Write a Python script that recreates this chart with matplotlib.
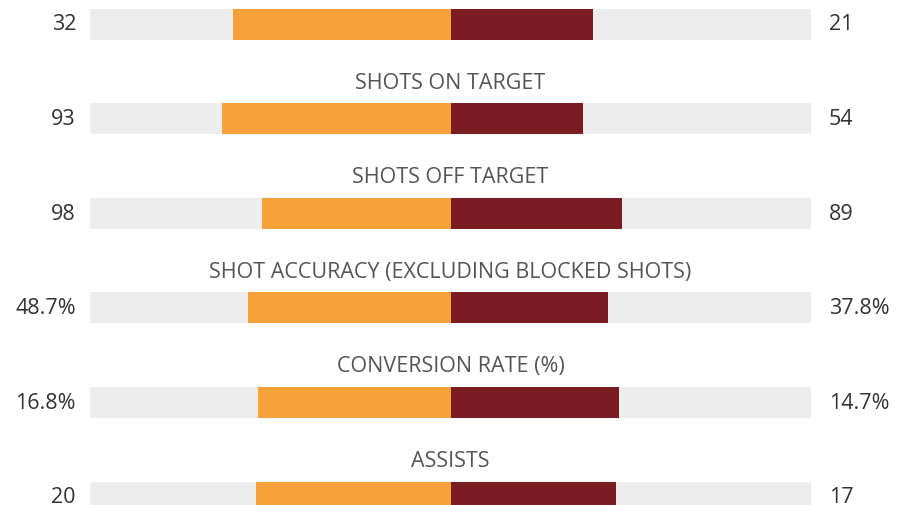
import matplotlib
matplotlib.use("Agg")
import matplotlib.pyplot as plt

# Team comparison rows (the top row's title sits above the visible area)
categories = ["GOALS", "SHOTS ON TARGET", "SHOTS OFF TARGET",
              "SHOT ACCURACY (EXCLUDING BLOCKED SHOTS)", "CONVERSION RATE (%)", "ASSISTS"]
home_values = [32, 93, 98, 48.7, 16.8, 20]
away_values = [21, 54, 89, 37.8, 14.7, 17]
home_labels = ["32", "93", "98", "48.7%", "16.8%", "20"]
away_labels = ["21", "54", "89", "37.8%", "14.7%", "17"]

HOME_COLOR = "#F7A13B"
AWAY_COLOR = "#7B1C23"
TRACK_COLOR = "#EDEDED"

plt.rcParams["font.family"] = ["Open Sans", "DejaVu Sans"]

fig = plt.figure(figsize=(9, 5.06), dpi=100)
ax = fig.add_axes([90 / 900, 0, 721 / 900, 1])

row_px = 94.6
top_px = 25.0
ax.set_xlim(-1, 1)
ax.set_ylim((506 - top_px) / row_px, -top_px / row_px)
ax.axis("off")

bar_h = 31 / row_px
for i, (cat, h, a) in enumerate(zip(categories, home_values, away_values)):
    total = h + a
    ax.barh(i, 2, left=-1, height=bar_h, color=TRACK_COLOR, linewidth=0)
    ax.barh(i, -h / total, left=0, height=bar_h, color=HOME_COLOR, linewidth=0)
    ax.barh(i, a / total, left=0, height=bar_h, color=AWAY_COLOR, linewidth=0)
    if i > 0:  # first title is cropped off the top in the source
        ax.text(0, i - 36.5 / row_px, cat, ha="center", va="center",
                fontsize=15.5, color="#555555")
    ax.text(-1 - 14 / 360.5, i, home_labels[i], ha="right", va="center",
            fontsize=15.5, color="#333333", clip_on=False)
    ax.text(1 + 18 / 360.5, i, away_labels[i], ha="left", va="center",
            fontsize=15.5, color="#333333", clip_on=False)

fig.savefig("out.png", dpi=100, facecolor="white")
